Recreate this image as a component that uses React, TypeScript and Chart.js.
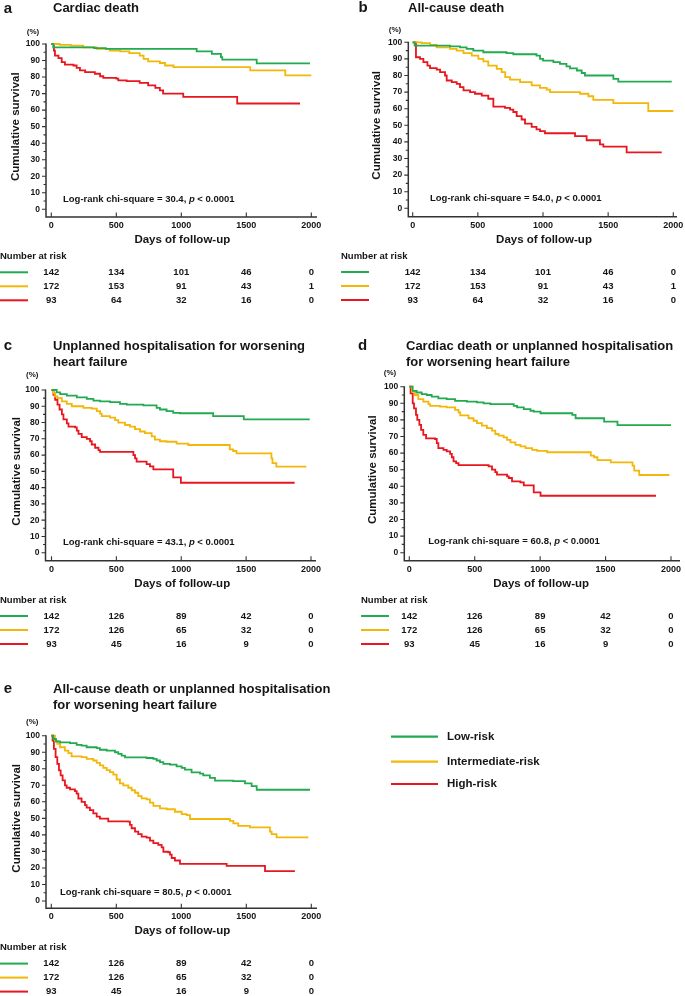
import React, { useEffect, useRef } from 'react';
import { Chart, registerables } from 'chart.js';
Chart.register(...registerables);

const W = 685;
const H = 996;
const FONT = '"Liberation Sans", Arial, Helvetica, sans-serif';
const COLORS = ['#22aa50', '#f2b709', '#e8161e'];
const groupLabels = ['Low-risk', 'Intermediate-risk', 'High-risk'];
const xTicks = [0, 500, 1000, 1500, 2000];
const yTicks = [0, 10, 20, 30, 40, 50, 60, 70, 80, 90, 100];
const yMinorTicks = [5, 15, 25, 35, 45, 55, 65, 75, 85, 95];

// Number at risk
const riskAB_low = [142, 134, 101, 46, 0];
const riskAB_mid = [172, 153, 91, 43, 1];
const riskAB_high = [93, 64, 32, 16, 0];
const riskCDE_low = [142, 126, 89, 42, 0];
const riskCDE_mid = [172, 126, 65, 32, 0];
const riskCDE_high = [93, 45, 16, 9, 0];

// Panel a: Cardiac death  [day, survival %]
const aLow = [[0,100],[15,98],[330,97.5],[420,97],[1118,95.5],[1235,94],[1305,92],[1315,90.5],[1580,88.3],[1990,88.3]];
const aMid = [[0,100],[65,99.5],[150,99],[246,98],[350,97],[450,96],[530,95.5],[600,94.5],[680,93],[710,91],[745,89.5],[835,88.5],[875,87],[940,86],[1530,84],[1800,81],[2000,81]];
const aHigh = [[0,100],[20,96],[28,93],[55,91.5],[80,89],[105,87.5],[170,87],[195,85.5],[220,84],[260,83],[335,82],[375,80.5],[400,79.5],[500,79],[515,78],[580,77.5],[680,76.5],[745,75],[800,73.5],[835,72],[860,70],[1015,68],[1430,64],[1913,64]];

// Panel b: All-cause death
const bLow = [[0,100],[15,98],[286,97.5],[363,97],[414,96],[465,95],[542,94],[720,93.5],[772,92.8],[950,92],[977,90],[1000,89],[1080,88],[1130,87],[1180,85.5],[1207,84.3],[1260,83],[1297,81.5],[1322,80],[1540,78],[1578,76.3],[1988,76.3]];
const bMid = [[0,100],[70,99.5],[133,98.5],[184,97],[286,96],[338,95],[390,93.5],[453,92],[504,90],[542,88.5],[580,86],[645,84],[683,82],[710,79],[747,77.5],[824,76],[913,74],[977,72.5],[1028,71.5],[1054,70],[1284,69],[1348,67.5],[1386,65.3],[1540,63.3],[1808,58.6],[2000,58.6]];
const bHigh = [[0,100],[25,91],[56,90],[82,88],[113,86],[133,84.5],[184,83.5],[210,82],[248,80],[261,77],[300,76],[338,75],[363,73],[390,71],[440,70],[478,69],[530,67.9],[580,66],[619,61.2],[708,60.5],[747,59.5],[772,58],[798,55.5],[836,53.5],[862,51],[913,49],[950,47.5],[977,46.5],[1015,45.2],[1246,43.5],[1335,41],[1437,38.5],[1463,37.1],[1642,33.7],[1911,33.7]];

// Panel c: Unplanned hospitalisation for worsening heart failure
const cLow = [[0,100],[40,98.5],[67,97.5],[118,96.5],[195,95.5],[272,94.5],[323,93.5],[374,93],[451,92.5],[528,91.5],[580,91],[708,90.5],[810,89],[836,88],[887,87],[938,86],[990,85.7],[1246,84],[1482,82],[1990,82]];
const cMid = [[0,100],[15,98],[28,96],[46,95],[80,93],[118,91.5],[156,90],[246,89],[310,88.5],[349,87],[374,85.5],[387,84],[451,83],[490,81.5],[515,79.9],[567,78.5],[605,77.5],[644,76],[682,74.5],[720,73.5],[772,71.5],[797,69.5],[836,68.5],[887,68.2],[964,67],[1054,66.2],[1374,63.5],[1400,62.5],[1426,61],[1695,58],[1703,55],[1733,52.9],[1964,52.9]];
const cHigh = [[0,100],[15,97],[28,94],[46,91],[62,88],[80,85],[92,82],[118,79.5],[131,77.5],[182,77],[195,75],[208,73],[233,71],[272,70],[297,68.5],[310,66.5],[336,64.5],[362,63],[374,62],[631,60],[644,58],[656,56],[733,54.5],[759,53],[785,51.2],[938,46.3],[997,43],[1874,43]];

// Panel d: Cardiac death or unplanned hospitalisation
const dLow = [[0,100],[26,97.5],[56,96.5],[95,95.5],[133,95],[171,94],[222,93],[286,92.5],[350,91.5],[440,91],[517,90.5],[568,90],[619,89.5],[798,88.5],[824,87.5],[875,86.5],[926,85.5],[951,85],[1003,84],[1246,83],[1271,81],[1489,79],[1591,76.9],[2000,76.9]];
const dMid = [[0,100],[20,97],[43,95],[69,92.5],[107,91],[146,89.5],[159,88.4],[235,88],[286,87.5],[350,86],[376,84.5],[389,82.7],[453,81],[491,79.5],[517,78],[555,76.5],[593,75],[632,73.5],[657,71.5],[683,70.5],[721,69.5],[747,68],[773,66.5],[811,65],[849,64],[888,63],[939,62],[977,61.4],[1054,60.5],[1387,58.5],[1412,57.5],[1438,55.8],[1540,54.4],[1706,52.5],[1719,49.4],[1757,46.8],[1988,46.8]];
const dHigh = [[0,100],[10,96],[26,90],[36,87],[51,83],[61,80],[77,77],[90,74],[107,71],[128,68.9],[197,68.5],[210,66],[222,63],[261,62],[286,61],[312,59.5],[325,57.5],[338,55],[358,54],[376,52.8],[606,52],[632,50],[657,48.5],[670,47],[747,46],[760,45],[785,43],[849,42.4],[875,40.5],[951,36.3],[1003,34.3],[1885,34.3]];

// Panel e: All-cause death or unplanned hospitalisation
const eLow = [[0,100],[15,98],[36,96.5],[67,96],[144,95.5],[195,94.5],[233,94],[272,93],[349,92.5],[374,91.5],[426,91],[490,90],[515,89],[541,88],[567,86.9],[733,86.5],[785,86],[810,85],[836,84],[862,83],[913,82.5],[964,81.5],[1003,80.5],[1028,79.5],[1079,77.8],[1144,77],[1169,76],[1220,74.5],[1259,72.8],[1400,72.5],[1490,71.2],[1541,69.5],[1580,67.3],[1990,67.3]];
const eMid = [[0,100],[28,97],[46,95],[67,93],[105,91],[131,89.5],[156,87.5],[233,87],[272,86],[323,85],[349,83.5],[374,82],[400,80.5],[426,79.2],[451,78],[477,76.5],[503,73.5],[528,71.2],[554,70],[592,68.5],[618,67],[644,65.5],[669,63.5],[695,62.1],[733,61.5],[759,59.5],[785,57.5],[836,56],[887,55.5],[951,54],[1003,52.6],[1041,52],[1067,49.6],[1374,48.5],[1400,47],[1438,45.4],[1528,44.6],[1682,42],[1695,40.5],[1733,38.5],[1977,38.5]];
const eHigh = [[0,100],[10,97],[20,92],[33,87],[46,83],[59,79],[72,76],[87,73],[105,70],[118,68.5],[144,67.5],[182,66.5],[195,65],[208,62],[233,60],[259,58],[272,56.5],[297,55],[323,53],[349,51],[374,49.8],[438,48.2],[592,48],[605,46],[618,44],[644,42],[669,40.5],[695,39],[733,38.3],[759,36.5],[785,35],[823,34],[849,32.5],[862,29.8],[900,29.5],[913,28],[926,26],[951,24.5],[990,22.4],[1349,21.2],[1644,18.1],[1874,18.1]];

type Panel = {
  letter: string; title: string[]; chi: string;
  series: number[][][]; risk: number[][];
  axL: number; axR: number; y100: number; y0: number; axB: number; x0: number; x2000: number;
  letterX: number; titleX: number; titleY: number[]; pctX: number; pctY: number; ylabX: number;
  chiX: number; chiY: number; tableX: number; legend?: boolean;
};

const panels: Panel[] = [
  { letter: 'a', title: ['Cardiac death'], chi: '30.4', series: [aLow, aMid, aHigh], risk: [riskAB_low, riskAB_mid, riskAB_high],
    axL: 46, axR: 317, y100: 44, y0: 209.3, axB: 217, x0: 51.3, x2000: 311.3,
    letterX: 8, titleX: 53, titleY: [8.5], pctX: 33, pctY: 31.7, ylabX: 16, chiX: 63, chiY: 199.5, tableX: 0 },
  { letter: 'b', title: ['All-cause death'], chi: '54.0', series: [bLow, bMid, bHigh], risk: [riskAB_low, riskAB_mid, riskAB_high],
    axL: 408.3, axR: 677, y100: 42.3, y0: 208.3, axB: 216.7, x0: 412.7, x2000: 673.3,
    letterX: 363, titleX: 408, titleY: [8], pctX: 395, pctY: 30, ylabX: 376.7, chiX: 430, chiY: 198.5, tableX: 341 },
  { letter: 'c', title: ['Unplanned hospitalisation for worsening', 'heart failure'], chi: '43.1', series: [cLow, cMid, cHigh], risk: [riskCDE_low, riskCDE_mid, riskCDE_high],
    axL: 45.5, axR: 316, y100: 390, y0: 552.7, axB: 560.7, x0: 51.5, x2000: 311,
    letterX: 8, titleX: 53, titleY: [346, 362], pctX: 32.3, pctY: 375, ylabX: 16.7, chiX: 63, chiY: 542, tableX: 0 },
  { letter: 'd', title: ['Cardiac death or unplanned hospitalisation', 'for worsening heart failure'], chi: '60.8', series: [dLow, dMid, dHigh], risk: [riskCDE_low, riskCDE_mid, riskCDE_high],
    axL: 404.3, axR: 680, y100: 386.7, y0: 552.7, axB: 560.7, x0: 409.3, x2000: 671,
    letterX: 362.7, titleX: 406, titleY: [346, 362], pctX: 390, pctY: 373, ylabX: 373.3, chiX: 428.3, chiY: 541, tableX: 361 },
  { letter: 'e', title: ['All-cause death or unplanned hospitalisation', 'for worsening heart failure'], chi: '80.5', series: [eLow, eMid, eHigh], risk: [riskCDE_low, riskCDE_mid, riskCDE_high],
    axL: 46, axR: 317, y100: 735.7, y0: 901, axB: 908.3, x0: 51.3, x2000: 311.3,
    letterX: 8, titleX: 53, titleY: [689, 705], pctX: 32.3, pctY: 722, ylabX: 16.7, chiX: 60, chiY: 892.3, tableX: 0, legend: true },
];

const legendLayout = { x1: 391, x2: 438, tx: 447, ys: [736.7, 761.7, 784] };

function txt(ctx: CanvasRenderingContext2D, s: string, x: number, y: number, size: number, align: CanvasTextAlign = 'left', style = 'bold') {
  ctx.font = `${style} ${size}px ${FONT}`;
  ctx.textAlign = align;
  ctx.textBaseline = 'middle';
  ctx.fillText(s, x, y);
}

function makePlugin(p: Panel) {
  return {
    id: 'panel_' + p.letter,
    beforeDatasetsDraw(chart: any) {
      const ctx: CanvasRenderingContext2D = chart.ctx;
      const xs = chart.scales.x;
      const ys = chart.scales.y;
      ctx.save();
      ctx.strokeStyle = '#333333';
      ctx.lineWidth = 1.5;
      ctx.beginPath();
      ctx.moveTo(p.axL, ys.getPixelForValue(100) - 0.5);
      ctx.lineTo(p.axL, p.axB);
      ctx.lineTo(p.axR, p.axB);
      ctx.stroke();
      ctx.lineWidth = 1.1;
      ctx.beginPath();
      for (const t of yTicks) {
        const y = ys.getPixelForValue(t);
        ctx.moveTo(p.axL - 4, y);
        ctx.lineTo(p.axL, y);
      }
      for (const t of yMinorTicks) {
        const y = ys.getPixelForValue(t);
        ctx.moveTo(p.axL - 2.5, y);
        ctx.lineTo(p.axL, y);
      }
      for (const t of xTicks) {
        const x = xs.getPixelForValue(t);
        ctx.moveTo(x, p.axB);
        ctx.lineTo(x, p.axB - 4.5);
      }
      ctx.stroke();
      ctx.restore();
    },
    afterDraw(chart: any) {
      const ctx: CanvasRenderingContext2D = chart.ctx;
      const xs = chart.scales.x;
      const ys = chart.scales.y;
      ctx.save();
      ctx.fillStyle = '#151515';
      // letter + title
      txt(ctx, p.letter, p.letterX, p.titleY[0], 15, 'center');
      p.title.forEach((line, i) => txt(ctx, line, p.titleX, p.titleY[i], 13, 'left'));
      // (%)
      txt(ctx, '(%)', p.pctX, p.pctY, 8, 'center');
      // y tick labels
      for (const t of yTicks) txt(ctx, String(t), p.axL - 6, ys.getPixelForValue(t), 8.5, 'right');
      // x tick labels
      for (const t of xTicks) txt(ctx, String(t), xs.getPixelForValue(t), p.axB + 8.5, 9, 'center');
      // axis titles
      txt(ctx, 'Days of follow-up', xs.getPixelForValue(1000) + 1, p.axB + 23, 11.5, 'center');
      ctx.save();
      ctx.translate(p.ylabX, (ys.getPixelForValue(100) + ys.getPixelForValue(0)) / 2);
      ctx.rotate(-Math.PI / 2);
      txt(ctx, 'Cumulative survival', 0, 0, 11.5, 'center');
      ctx.restore();
      // log-rank
      let cx = p.chiX;
      const parts: [string, string][] = [[`Log-rank chi-square = ${p.chi}, `, 'bold'], ['p', 'italic bold'], [' < 0.0001', 'bold']];
      for (const [s, st] of parts) {
        txt(ctx, s, cx, p.chiY, 9.5, 'left', st);
        cx += ctx.measureText(s).width;
      }
      // number at risk
      txt(ctx, 'Number at risk', p.tableX, p.axB + 39.5, 9.5, 'left');
      p.risk.forEach((row, i) => {
        const y = p.axB + 55.3 + i * 14;
        ctx.strokeStyle = COLORS[i];
        ctx.lineWidth = 2;
        ctx.beginPath();
        ctx.moveTo(p.tableX, y);
        ctx.lineTo(p.tableX + 28, y);
        ctx.stroke();
        row.forEach((v, j) => txt(ctx, String(v), xs.getPixelForValue(xTicks[j]), y, 9.5, 'center'));
      });
      // legend
      if (p.legend) {
        chart.data.datasets.forEach((ds: any, i: number) => {
          const y = legendLayout.ys[i];
          ctx.strokeStyle = ds.borderColor;
          ctx.lineWidth = 2.2;
          ctx.beginPath();
          ctx.moveTo(legendLayout.x1, y);
          ctx.lineTo(legendLayout.x2, y);
          ctx.stroke();
          txt(ctx, ds.label, legendLayout.tx, y, 11.5, 'left');
        });
      }
      ctx.restore();
    },
  };
}

function PanelChart({ p }: { p: Panel }) {
  const ref = useRef<HTMLCanvasElement>(null);
  useEffect(() => {
    if (!ref.current) return;
    const pxDay = (p.x2000 - p.x0) / 2000;
    const xmin = (p.axL - p.x0) / pxDay;
    const xmax = (p.axR - p.x0) / pxDay;
    const pxU = (p.y0 - p.y100) / 100;
    const ymin = -(p.axB - p.y0) / pxU;
    const chart = new Chart(ref.current, {
      type: 'line',
      data: {
        datasets: p.series.map((s, i) => ({
          label: groupLabels[i],
          data: s.map(([x, y]) => ({ x, y })),
          borderColor: COLORS[i],
          backgroundColor: COLORS[i],
          borderWidth: 1.8,
          stepped: true,
          pointRadius: 0,
          fill: false,
          clip: false,
        })),
      },
      options: {
        responsive: false,
        animation: false,
        events: [],
        layout: { padding: { left: p.axL, right: W - p.axR, top: p.y100, bottom: H - p.axB } },
        scales: {
          x: { type: 'linear', display: false, min: xmin, max: xmax, bounds: 'data' },
          y: { type: 'linear', display: false, min: ymin, max: 100, bounds: 'data' },
        },
        plugins: { legend: { display: false }, tooltip: { enabled: false }, title: { display: false } },
      } as any,
      plugins: [makePlugin(p)],
    } as any);
    return () => chart.destroy();
  }, [p]);
  return <canvas ref={ref} width={W} height={H} style={{ position: 'absolute', left: 0, top: 0, width: W, height: H }} />;
}

export default function App() {
  return (
    <div style={{ position: 'absolute', left: 0, top: 0, width: W, height: H, background: '#fff', overflow: 'hidden' }}>
      {panels.map((p) => <PanelChart key={p.letter} p={p} />)}
    </div>
  );
}
